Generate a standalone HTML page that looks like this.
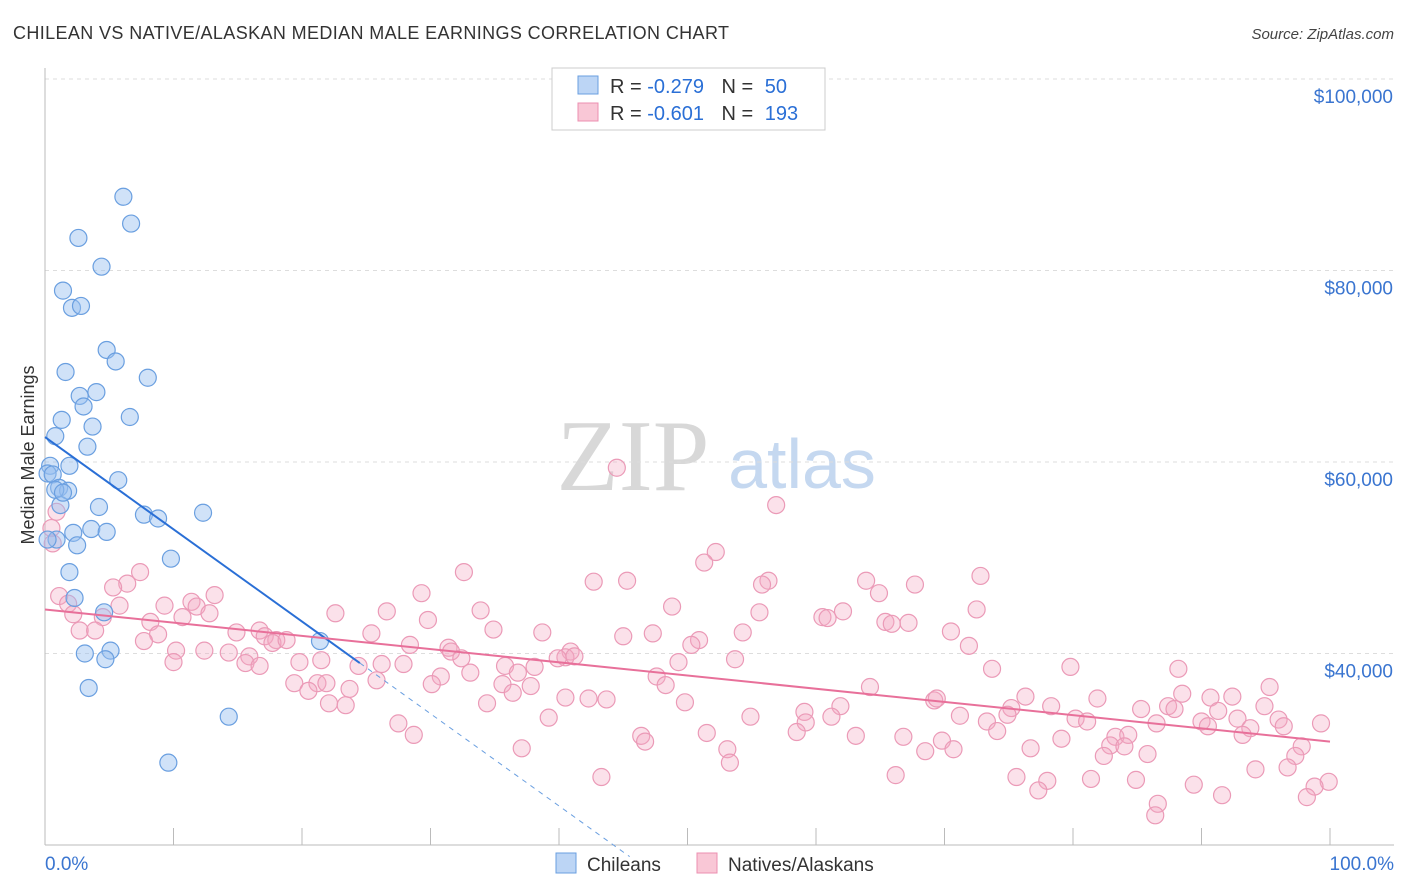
<!DOCTYPE html>
<html><head><meta charset="utf-8"><style>
body{margin:0;background:#fff;font-family:"Liberation Sans",sans-serif;}
svg{display:block}
</style></head><body>
<svg id="chart" width="1406" height="892" xmlns="http://www.w3.org/2000/svg">
<text x="13" y="39" font-size="18" fill="#333" textLength="716" lengthAdjust="spacing" font-family="Liberation Sans, sans-serif">CHILEAN VS NATIVE/ALASKAN MEDIAN MALE EARNINGS CORRELATION CHART</text>
<text x="1394" y="39" font-size="15" fill="#444" text-anchor="end" font-style="italic">Source: ZipAtlas.com</text>
<text transform="translate(34,455) rotate(-90)" font-size="18" fill="#333" text-anchor="middle">Median Male Earnings</text>
<g>
<text x="633" y="490" font-size="102" fill="#d8d8d8" text-anchor="middle" font-family="Liberation Serif, serif">ZIP</text>
<text x="802" y="488" font-size="70" fill="#c5d8f0" text-anchor="middle">atlas</text>
</g>
<g id="grid"></g><g id="axes"></g><g id="pts"></g><g id="lines"></g>
<g>
<rect x="552" y="68" width="273" height="62" fill="#fff" stroke="#ccc"/>
<rect x="578" y="76" width="20" height="18" fill="#bcd5f5" stroke="#6a9fe0"/>
<rect x="578" y="103" width="20" height="18" fill="#f9c7d6" stroke="#ec8fb0"/>
<text x="610" y="93" font-size="20" fill="#333">R = <tspan fill="#2a6fd6">-0.279</tspan>  <tspan dx="12">N = </tspan><tspan fill="#2a6fd6" dx="6">50</tspan></text>
<text x="610" y="120" font-size="20" fill="#333">R = <tspan fill="#2a6fd6">-0.601</tspan>  <tspan dx="12">N = </tspan><tspan fill="#2a6fd6" dx="6">193</tspan></text>
</g>
<g>
<rect x="556" y="853" width="20" height="20" fill="#bcd5f5" stroke="#6a9fe0"/>
<text x="587" y="871" font-size="19" fill="#333">Chileans</text>
<rect x="697" y="853" width="20" height="20" fill="#f9c7d6" stroke="#ec8fb0"/>
<text x="728" y="871" font-size="19" fill="#333">Natives/Alaskans</text>
</g>
</svg>
<script>
const yTicks=[40,60,80,100];
const yTickLabels=["$40,000","$60,000","$80,000","$100,000"];
const xTickLabels=["0.0%","100.0%"];
const blueX=[6.1,6.7,2.6,4.4,1.4,2.1,2.8,4.8,5.5,1.6,8.0,4.0,2.7,3.0,6.6,1.3,3.7,0.8,3.3,0.4,1.9,0.2,0.6,5.7,1.1,1.8,0.8,1.2,4.2,7.7,8.8,12.3,3.6,4.8,2.2,0.9,2.5,9.8,1.9,2.3,4.6,5.1,3.1,4.7,21.4,3.4,14.3,9.6,0.2,1.4];
const blueY=[87.7,84.9,83.4,80.4,77.9,76.1,76.3,71.7,70.5,69.4,68.8,67.3,66.9,65.8,64.7,64.4,63.7,62.7,61.6,59.6,59.6,58.8,58.7,58.1,57.3,57.0,57.1,55.5,55.3,54.5,54.1,54.7,53.0,52.7,52.6,51.9,51.3,49.9,48.5,45.8,44.3,40.3,40.0,39.4,41.3,36.4,33.4,28.6,51.9,56.8];
const pinkX=[44.5,56.9,52.2,51.3,32.6,7.4,72.8,56.3,42.7,45.3,63.9,67.7,55.8,6.4,5.3,29.3,64.9,13.2,1.1,11.4,1.8,5.8,9.3,11.8,48.8,72.5,33.9,62.1,26.6,22.6,55.6,2.2,4.5,12.8,10.7,29.8,60.5,60.9,8.2,65.4,65.9,67.2,2.7,3.9,14.9,16.7,34.9,38.7,47.3,54.3,70.5,25.4,8.8,17.1,18.0,17.7,18.8,45.0,50.9,50.3,28.4,31.4,31.6,7.7,71.9,10.2,12.4,14.3,15.9,40.9,40.5,41.2,32.4,39.9,19.8,21.5,26.2,10.0,15.6,16.7,24.4,27.9,35.8,38.1,49.3,53.7,73.7,79.8,88.2,33.1,36.8,47.6,30.8,25.8,30.1,19.4,21.2,21.9,35.6,37.8,48.3,23.7,20.5,64.2,95.3,88.5,92.4,76.3,36.4,40.5,42.3,43.7,69.2,69.4,81.9,90.7,22.1,23.4,34.4,49.8,61.9,75.2,78.3,85.3,87.4,87.9,94.9,91.3,74.9,71.2,61.2,59.1,54.9,39.2,80.2,81.1,90.0,90.5,92.8,96.0,99.3,96.4,73.3,59.2,93.8,93.2,86.5,51.5,58.5,46.4,63.1,66.8,74.1,83.3,84.3,79.1,27.5,28.7,46.7,69.8,82.9,84.0,97.8,76.7,37.1,53.1,70.7,68.5,82.4,85.8,97.3,53.3,96.7,94.2,66.2,43.3,75.6,78.0,81.4,84.9,99.9,98.8,89.4,77.3,91.6,98.2,86.6,86.4,0.9,0.5,0.6];
const pinkY=[59.4,55.5,50.6,49.5,48.5,48.5,48.1,47.6,47.5,47.6,47.6,47.2,47.2,47.3,46.9,46.3,46.3,46.1,46.0,45.4,45.2,45.0,45.0,44.9,44.9,44.6,44.5,44.4,44.4,44.2,44.3,44.1,43.8,44.2,43.8,43.5,43.8,43.7,43.3,43.3,43.1,43.2,42.4,42.4,42.2,42.4,42.5,42.2,42.1,42.2,42.3,42.1,42.0,41.8,41.4,41.1,41.4,41.8,41.4,40.9,40.9,40.6,40.2,41.3,40.8,40.3,40.3,40.1,39.7,40.2,39.6,39.7,39.5,39.5,39.1,39.3,38.9,39.1,39.0,38.7,38.7,38.9,38.7,38.6,39.1,39.4,38.4,38.6,38.4,38.0,38.0,37.6,37.6,37.2,36.8,36.9,36.9,36.9,36.8,36.6,36.7,36.3,36.1,36.5,36.5,35.8,35.5,35.5,35.9,35.4,35.3,35.2,35.1,35.3,35.3,35.4,34.8,34.6,34.8,34.9,34.5,34.3,34.5,34.2,34.5,34.2,34.5,34.0,33.6,33.5,33.4,33.9,33.4,33.3,33.2,32.9,32.9,32.4,33.2,33.1,32.7,32.4,32.9,32.8,32.2,31.5,32.7,31.7,31.8,31.4,31.4,31.3,31.9,31.3,31.5,31.1,32.7,31.5,30.8,30.9,30.4,30.3,30.3,30.1,30.1,30.0,30.0,29.8,29.3,29.5,29.3,28.6,28.1,27.9,27.3,27.1,27.1,26.7,26.9,26.8,26.6,26.1,26.3,25.7,25.2,25.0,24.3,23.1,54.8,53.1,51.5];
const blueTrend=[62.6,-0.963]; const blueSolidEnd=24.5, blueDashEnd=45.5;
const pinkTrend=[44.6,-0.138];
const NS="http://www.w3.org/2000/svg";
const X=v=>45+v*12.85, Y=v=>79+(100-v)*9.575;
function mk(t,a,p){const e=document.createElementNS(NS,t);for(const k in a)e.setAttribute(k,a[k]);p.appendChild(e);return e;}
const grid=document.getElementById('grid'),axes=document.getElementById('axes'),pts=document.getElementById('pts'),lines=document.getElementById('lines');
yTicks.forEach((t,i)=>{
 const g=mk('line',{x1:45,x2:1394,y1:Y(t),y2:Y(t),stroke:'#ddd','stroke-dasharray':'4,4'},grid);
 
 
 const l=mk('text',{x:1393,y:Y(t)+24,'font-size':19,fill:'#3a75d0','text-anchor':'end'},axes);
 l.textContent=yTickLabels[i];
 
 
});
const ax=mk('line',{x1:45,x2:1394,y1:845,y2:845,stroke:'#bbb'},axes);


const ay=mk('line',{x1:45,x2:45,y1:68,y2:845,stroke:'#bbb'},axes);


for(let i=0;i<=10;i++){const t=mk('line',{x1:X(i*10),x2:X(i*10),y1:828,y2:845,stroke:'#bbb'},axes);
 
 }
[[0,'start',45],[1,'end',1394]].forEach(([i,a,x])=>{const t=mk('text',{x:x,y:870,'font-size':19,fill:'#3a75d0','text-anchor':a},axes);t.textContent=xTickLabels[i];
 
 });
pinkX.forEach((x,i)=>{const c=mk('circle',{cx:X(x),cy:Y(pinkY[i]),r:8.5,fill:'rgba(244,170,195,0.35)',stroke:'#eb9ab7','stroke-width':1.2},pts);
 
 });
blueX.forEach((x,i)=>{const c=mk('circle',{cx:X(x),cy:Y(blueY[i]),r:8.5,fill:'rgba(150,190,240,0.45)',stroke:'#6a9fe0','stroke-width':1.2},pts);
 
 });
const f=(t,x)=>t[0]+t[1]*x;
const bl=mk('line',{x1:X(0),y1:Y(f(blueTrend,0)),x2:X(blueSolidEnd),y2:Y(f(blueTrend,blueSolidEnd)),stroke:'#2a6fd6','stroke-width':2},lines);


const bd=mk('line',{x1:X(blueSolidEnd),y1:Y(f(blueTrend,blueSolidEnd)),x2:X(blueDashEnd),y2:Y(f(blueTrend,blueDashEnd)),stroke:'#6a9fe0','stroke-width':1,'stroke-dasharray':'5,5'},lines);


const pl=mk('line',{x1:X(0),y1:Y(f(pinkTrend,0)),x2:X(100),y2:Y(f(pinkTrend,100)),stroke:'#e8709a','stroke-width':2},lines);


</script>
</body></html>
